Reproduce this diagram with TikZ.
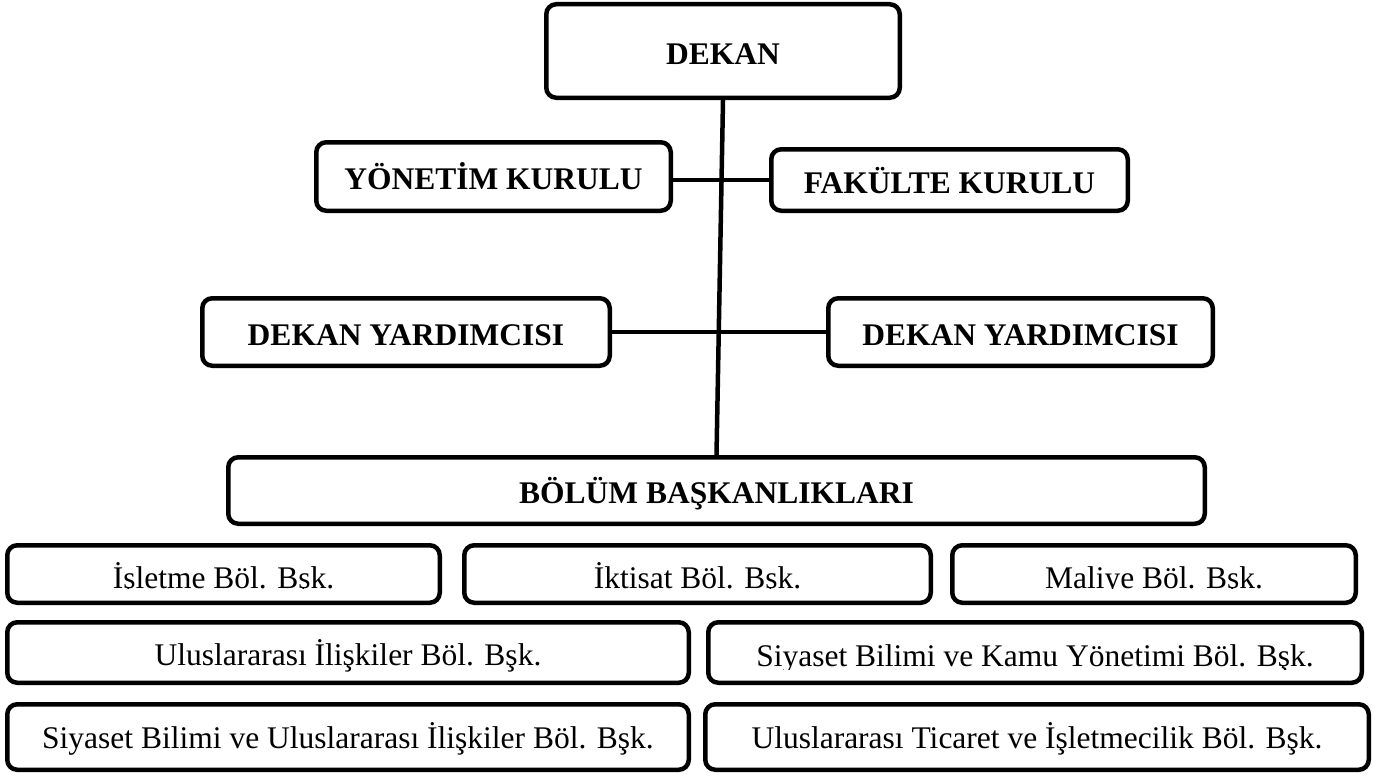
\documentclass[tikz,border=0pt]{standalone}
\usepackage{fontspec}
\setmainfont{Liberation Serif}
\begin{document}
\begin{tikzpicture}[x=1pt,y=-1pt,
  box/.style={draw, line width=4.5pt, rounded corners=10pt, inner sep=0pt,
    text height=26pt, text depth=0pt, fill=white},
  boldtext/.style={font=\fontsize{31.5pt}{36pt}\selectfont\bfseries},
  regtext/.style={font=\fontsize{31.5pt}{36pt}\selectfont, inner sep=0pt},
  conn/.style={line width=4.5pt}]
\useasboundingbox (0,0) rectangle (1389,776);
% top part
\node[box, boldtext, minimum width=353.5pt, minimum height=93.5pt] (dekan) at (723,51) {DEKAN};
\node[box, boldtext, minimum width=354.5pt, minimum height=68.5pt] (yon) at (493.5,176.5) {YÖNETİM KURULU};
\node[box, boldtext, minimum width=356.5pt, minimum height=61.5pt] (fak) at (949.5,180) {FAKÜLTE KURULU};
\node[box, boldtext, minimum width=407.5pt, minimum height=67.5pt] (dy1) at (406,332) {DEKAN YARDIMCISI};
\node[box, boldtext, minimum width=384.5pt, minimum height=67.5pt] (dy2) at (1020.5,332) {DEKAN YARDIMCISI};
\node[box, boldtext, minimum width=976.5pt, minimum height=66.5pt] (bolum) at (716.5,490.5) {BÖLÜM BAŞKANLIKLARI};
% connectors
\draw[conn] (yon.east |- fak.west) -- (fak.west);
\draw[conn] (dy1.east) -- (dy2.west);
\draw[conn] (dekan.south) -- (bolum.north);
% department boxes
\node[box, minimum width=432.5pt, minimum height=57.5pt] (isl) at (223.5,574) {};
\node[box, minimum width=466.5pt, minimum height=57.5pt] (ikt) at (697.5,574) {};
\node[box, minimum width=403.5pt, minimum height=57.5pt] (mal) at (1154,574) {};
\node[box, minimum width=681.5pt, minimum height=60.5pt] (uii) at (348,652.5) {};
\node[box, minimum width=653.5pt, minimum height=60.5pt] (sbk) at (1035,652.5) {};
\node[box, minimum width=681.5pt, minimum height=65.5pt] (sbu) at (348,737) {};
\node[box, minimum width=663.5pt, minimum height=65.5pt] (utk) at (1037,737) {};
% department texts
\begin{scope}
  \clip (0,530) rectangle (1389,588.5);
  \node[regtext, anchor=base] (islt) at (isl |- 0,588) {İşletme Böl. Bşk.};
  \node[regtext, anchor=base] (iktt) at (ikt |- 0,588) {İktisat Böl. Bşk.};
  \node[regtext, anchor=base] (malt) at (mal |- 0,588) {Maliye Böl. Bşk.};
\end{scope}
\node[regtext, anchor=base] (uiit) at (uii |- 0,665) {Uluslararası İlişkiler Böl. Bşk.};
\begin{scope}
  \clip (700,620) rectangle (1389,669.5);
  \node[regtext, anchor=base] (sbkt) at (sbk |- 0,666) {Siyaset Bilimi ve Kamu Yönetimi Böl. Bşk.};
\end{scope}
\node[regtext, anchor=base] (sbut) at (sbu |- 0,748) {Siyaset Bilimi ve Uluslararası İlişkiler Böl. Bşk.};
\node[regtext, anchor=base] (utkt) at (utk |- 0,748) {Uluslararası Ticaret ve İşletmecilik Böl. Bşk.};
\end{tikzpicture}
\end{document}
